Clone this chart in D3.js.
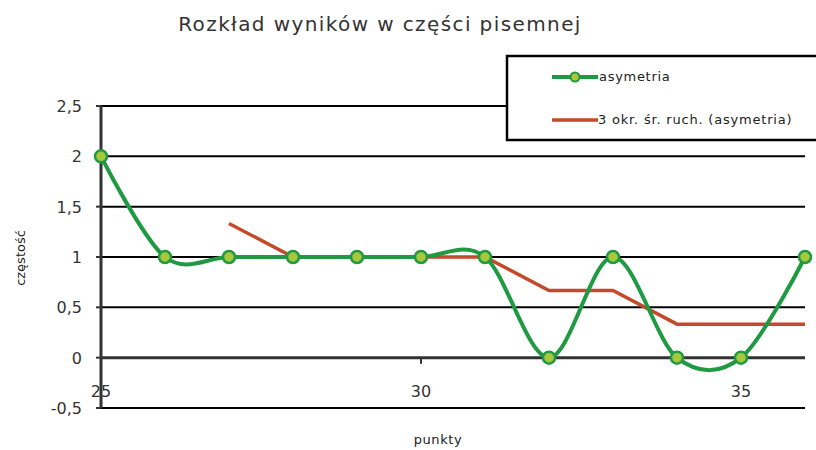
<!DOCTYPE html>
<html>
<head>
<meta charset="utf-8">
<script src="https://cdn.jsdelivr.net/npm/d3@7"></script>
<style>
  body { margin: 0; background: #fff; }
  text { font-family: "DejaVu Sans", Verdana, sans-serif; fill: #222; }
</style>
</head>
<body>
<div id="chart"></div>
<script>
// data
const points = [25, 26, 27, 28, 29, 30, 31, 32, 33, 34, 35, 36];
const asymetria = [2, 1, 1, 1, 1, 1, 1, 0, 1, 0, 0, 1];
// 3 okr. sr. ruch. starts at 27
const maPoints = [27, 28, 29, 30, 31, 32, 33, 34, 35, 36];
const maValues = [1.333, 1, 1, 1, 1, 0.667, 0.667, 0.333, 0.333, 0.333];
const yTicks = [-0.5, 0, 0.5, 1, 1.5, 2, 2.5];
const xTicks = [25, 30, 35];

const width = 816, height = 450;
const margin = {top: 106, right: 11, bottom: 42, left: 101};

const svg = d3.select("#chart").append("svg")
    .attr("width", width)
    .attr("height", height);

const x = d3.scaleLinear().domain([25, 36]).range([margin.left, width - margin.right]);
const y = d3.scaleLinear().domain([-0.5, 2.5]).range([height - margin.bottom, margin.top]);

const fmt = d => String(d).replace(".", ",");

// gridlines
svg.selectAll(".grid").data(yTicks.filter(d => d !== 0))
    .enter().append("line")
    .attr("class", "grid")
    .attr("x1", x(25)).attr("x2", x(36))
    .attr("y1", d => y(d)).attr("y2", d => y(d))
    .attr("stroke", "#000").attr("stroke-width", 2);

// y axis
svg.append("line")
    .attr("x1", x(25)).attr("x2", x(25))
    .attr("y1", y(2.5)).attr("y2", y(-0.5))
    .attr("stroke", "#333").attr("stroke-width", 3);
svg.selectAll(".ytick").data(yTicks)
    .enter().append("line")
    .attr("x1", x(25) - 5).attr("x2", x(25))
    .attr("y1", d => y(d)).attr("y2", d => y(d))
    .attr("stroke", "#333").attr("stroke-width", 2);
svg.selectAll(".ylab").data(yTicks)
    .enter().append("text")
    .attr("x", 82)
    .attr("y", d => y(d) + 6)
    .attr("text-anchor", "end")
    .style("font-size", "16px")
    .style("fill", "#333")
    .text(fmt);

// x axis at zero
svg.append("line")
    .attr("x1", x(25)).attr("x2", x(36))
    .attr("y1", y(0)).attr("y2", y(0))
    .attr("stroke", "#333").attr("stroke-width", 3);
svg.selectAll(".xtick").data(xTicks)
    .enter().append("line")
    .attr("x1", d => x(d)).attr("x2", d => x(d))
    .attr("y1", y(0)).attr("y2", y(0) + 6)
    .attr("stroke", "#333").attr("stroke-width", 2);
svg.selectAll(".xlab").data(xTicks)
    .enter().append("text")
    .attr("x", d => x(d))
    .attr("y", y(0) + 39)
    .attr("text-anchor", "middle")
    .style("font-size", "16px")
    .style("fill", "#333")
    .text(d => d);

// axis titles
svg.append("text")
    .attr("x", 438).attr("y", 444)
    .attr("text-anchor", "middle")
    .style("font-size", "13px")
    .style("letter-spacing", "0.6px")
    .text("punkty");
svg.append("text")
    .attr("transform", "translate(25,258) rotate(-90)")
    .attr("text-anchor", "middle")
    .style("font-size", "13px")
    .text("częstość");

// title
svg.append("text")
    .attr("x", 380).attr("y", 31)
    .attr("text-anchor", "middle")
    .style("font-size", "20px")
    .style("letter-spacing", "1.4px")
    .style("fill", "#333")
    .text("Rozkład wyników w części pisemnej");

// moving average (straight)
const maLine = d3.line()
    .x((d, i) => x(maPoints[i]))
    .y(d => y(d));
svg.append("path")
    .datum(maValues)
    .attr("d", maLine)
    .attr("fill", "none")
    .attr("stroke", "#c44a2a")
    .attr("stroke-width", 3.5);

// smoothed series
const smooth = d3.line()
    .x((d, i) => x(points[i]))
    .y(d => y(d))
    .curve(d3.curveCardinal.tension(0));
svg.append("path")
    .datum(asymetria)
    .attr("d", smooth)
    .attr("fill", "none")
    .attr("stroke", "#1f9a43")
    .attr("stroke-width", 4);

svg.selectAll(".dot").data(asymetria)
    .enter().append("circle")
    .attr("cx", (d, i) => x(points[i]))
    .attr("cy", d => y(d))
    .attr("r", 6)
    .attr("fill", "#a6c83a")
    .attr("stroke", "#1f9a43")
    .attr("stroke-width", 2.5);

// legend
const lg = svg.append("g");
lg.append("rect")
    .attr("x", 507).attr("y", 56)
    .attr("width", 320).attr("height", 84)
    .attr("fill", "#fff")
    .attr("stroke", "#000").attr("stroke-width", 2.5);
lg.append("line")
    .attr("x1", 552).attr("x2", 598).attr("y1", 77).attr("y2", 77)
    .attr("stroke", "#1f9a43").attr("stroke-width", 4);
lg.append("circle")
    .attr("cx", 575).attr("cy", 77).attr("r", 4.5)
    .attr("fill", "#a6c83a").attr("stroke", "#1f9a43").attr("stroke-width", 2);
lg.append("text")
    .attr("x", 599).attr("y", 81)
    .style("font-size", "13px")
    .style("letter-spacing", "0.7px")
    .text("asymetria");
lg.append("line")
    .attr("x1", 552).attr("x2", 598).attr("y1", 120).attr("y2", 120)
    .attr("stroke", "#c44a2a").attr("stroke-width", 3.5);
lg.append("text")
    .attr("x", 598).attr("y", 124)
    .style("font-size", "13px")
    .style("letter-spacing", "0.8px")
    .text("3 okr. śr. ruch. (asymetria)");
</script>
</body>
</html>
